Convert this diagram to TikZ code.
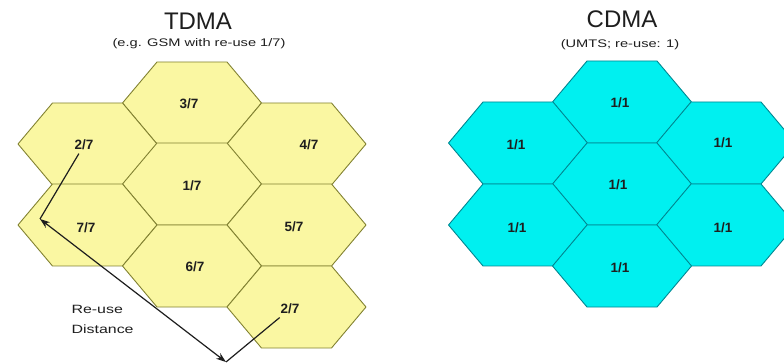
\documentclass[tikz,border=0pt]{standalone}
\usepackage{fontspec}
\setmainfont{Liberation Sans}
\usepackage{graphicx}
\usetikzlibrary{arrows.meta}

\definecolor{cellyellow}{RGB}{250,247,162}
\definecolor{edgeolive}{RGB}{130,130,50}
\definecolor{cellcyan}{RGB}{0,240,240}
\definecolor{edgeteal}{RGB}{0,135,145}
\definecolor{inkgray}{RGB}{30,30,30}

\newcommand{\wide}[1]{\scalebox{1.33}[1]{#1}}

\begin{document}
\begin{tikzpicture}[x=1pt, y=-1pt,
    tcell/.style={draw=edgeolive, fill=cellyellow, line width=0.9pt, line join=round},
    ccell/.style={draw=edgeteal, fill=cellcyan, line width=0.9pt, line join=round},
    ratio/.style={font=\fontsize{13.5}{15}\selectfont\bfseries, text=inkgray},
    title/.style={font=\fontsize{24}{28}\selectfont, text=inkgray},
    sub/.style={font=\fontsize{11}{13}\selectfont, text=inkgray},
    lead/.style={line width=1.2pt, draw=inkgray},
    reach/.style={{Stealth[length=10pt, width=7pt]}-{Stealth[length=10pt, width=7pt]}, line width=1.2pt, draw=inkgray}
]
\clip (0,0) rectangle (784,363);

% TDMA
\node[title] (tdma) at (198,21) {TDMA};
\node[sub] (tdmasub) at (199,44) {\wide{(e.g. GSM with re-use 1/7)}};

\foreach \cx/\cy in {192/103, 87.5/144, 296.5/144, 192/184, 87.5/225, 296.5/225, 192/266, 296.5/307}
  \draw[tcell] (\cx,\cy) ++(-69.5,0) -- ++(34.5,-41) -- ++(70,0) -- ++(34.5,41) -- ++(-34.5,41) -- ++(-70,0) -- cycle;

\node[ratio] (t37) at (189,104) {3/7};
\node[ratio] (t27a) at (84,145) {2/7};
\node[ratio] (t47) at (309,145) {4/7};
\node[ratio] (t17) at (192,186) {1/7};
\node[ratio] (t77) at (86,228) {7/7};
\node[ratio] (t57) at (294,227) {5/7};
\node[ratio] (t67) at (195,267) {6/7};
\node[ratio] (t27b) at (290,309) {2/7};

% Re-use distance
\coordinate (nearend) at (40,219);
\coordinate (farend) at (226,362);
\draw[lead] (t27a) -- (nearend);
\draw[lead] (t27b) -- (farend);
\draw[reach] (nearend) -- (farend);

\node[sub, font=\fontsize{12}{20}\selectfont, align=left, anchor=north west] (reuse) at (68,302) {\wide{Re-use}\\\wide{Distance}};

% CDMA
\node[title] (cdma) at (622,19) {CDMA};
\node[sub] (cdmasub) at (620,45) {\wide{(UMTS; re-use: 1)}};

\foreach \cx/\cy in {622/102, 518/143, 726/143, 622/184, 518/225, 726/225, 622/266}
  \draw[ccell] (\cx,\cy) ++(-69.5,0) -- ++(34.5,-41) -- ++(70,0) -- ++(34.5,41) -- ++(-34.5,41) -- ++(-70,0) -- cycle;

\node[ratio] (c1) at (620,103) {1/1};
\node[ratio] (c2) at (516,145) {1/1};
\node[ratio] (c3) at (723,143) {1/1};
\node[ratio] (c4) at (618,185) {1/1};
\node[ratio] (c5) at (517,228) {1/1};
\node[ratio] (c6) at (723,228) {1/1};
\node[ratio] (c7) at (620,268) {1/1};

\end{tikzpicture}
\end{document}
